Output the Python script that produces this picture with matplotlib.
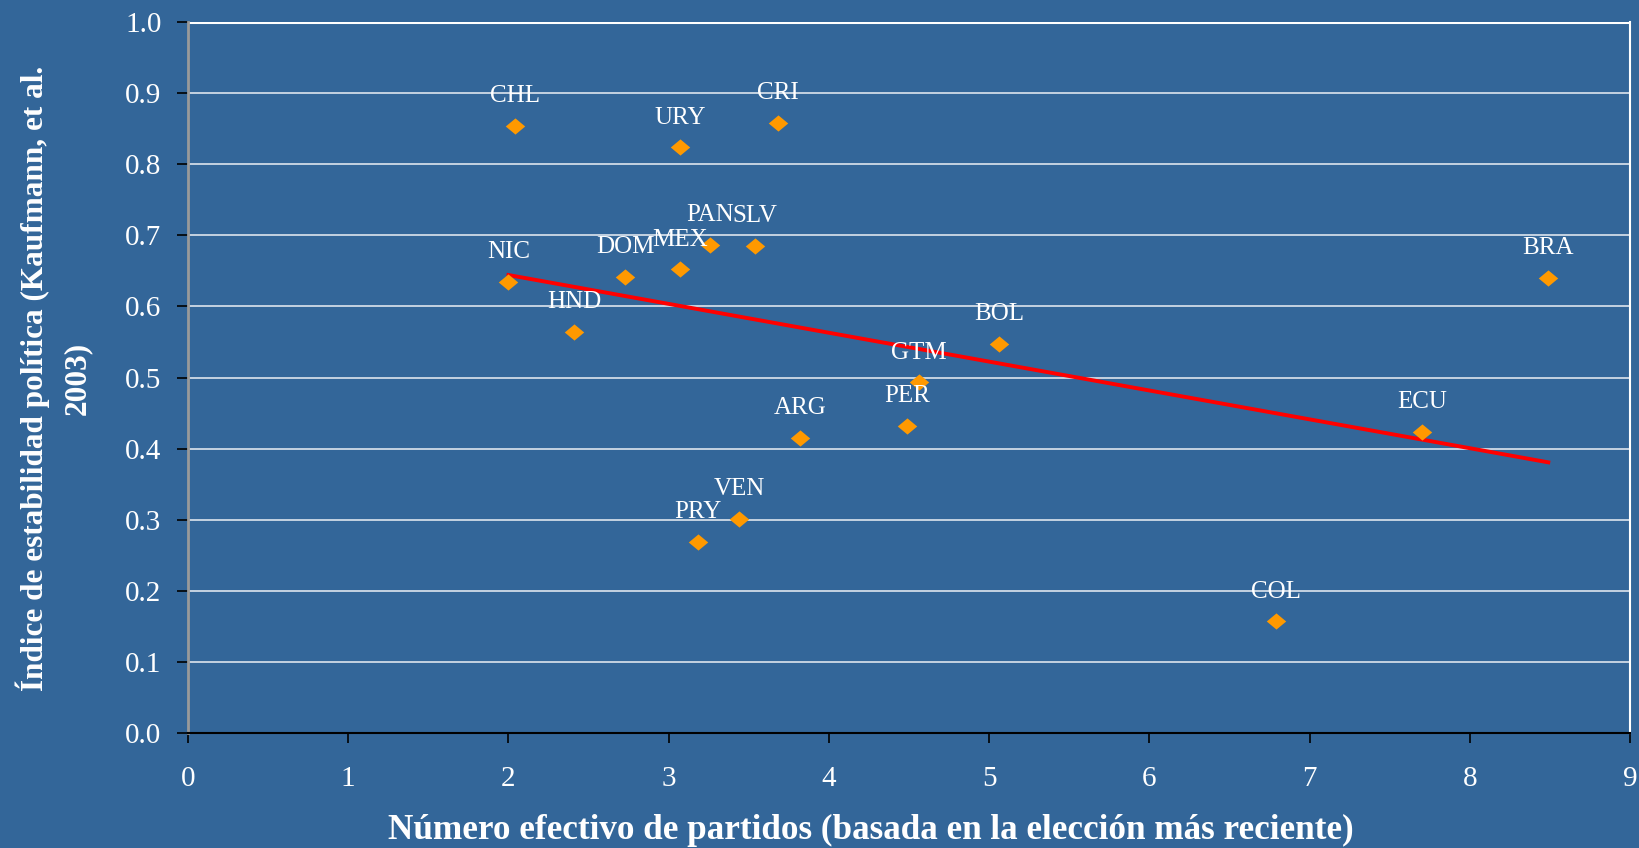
import matplotlib
matplotlib.use("Agg")
import matplotlib.pyplot as plt
import numpy as np

countries = ["CHL", "URY", "CRI", "PAN", "SLV", "MEX", "DOM", "NIC", "HND",
             "BOL", "GTM", "PER", "ARG", "VEN", "PRY", "COL", "ECU", "BRA"]
num_parties = [2.04, 3.07, 3.68, 3.26, 3.54, 3.07, 2.73, 2.00, 2.41,
               5.06, 4.56, 4.49, 3.82, 3.44, 3.18, 6.79, 7.70, 8.49]
stability = [0.854, 0.824, 0.858, 0.687, 0.685, 0.652, 0.642, 0.635, 0.564,
             0.547, 0.493, 0.432, 0.415, 0.301, 0.269, 0.157, 0.424, 0.640]

x_ticks = [0, 1, 2, 3, 4, 5, 6, 7, 8, 9]
y_ticks = [0.0, 0.1, 0.2, 0.3, 0.4, 0.5, 0.6, 0.7, 0.8, 0.9, 1.0]
xlabel = "Número efectivo de partidos (basada en la elección más reciente)"
ylabel = "Índice de estabilidad política (Kaufmann, et al.\n2003)"

BG = "#336699"
ORANGE = "#FF9900"
SERIF = ["Liberation Serif", "DejaVu Serif"]

fig = plt.figure(figsize=(16.39, 8.48), dpi=100, facecolor=BG)
ax = fig.add_axes([188 / 1639, 1 - 733 / 848, (1630 - 188) / 1639, (733 - 22) / 848])
ax.set_facecolor(BG)

ax.set_xlim(0, 9)
ax.set_ylim(0, 1.0)
ax.set_xticks(x_ticks)
ax.set_yticks(y_ticks)
ax.set_xticklabels([str(t) for t in x_ticks], family=SERIF, fontsize=21, color="white")
ax.set_yticklabels([f"{t:.1f}" for t in y_ticks], family=SERIF, fontsize=21, color="white")
ax.tick_params(axis="y", direction="out", length=8, width=1.2, color="black", pad=11)
ax.tick_params(axis="x", direction="out", length=7, width=1.2, color="black", pad=17)

ax.grid(axis="y", color="white", linewidth=1.1, alpha=0.9)
ax.set_axisbelow(True)
ax.spines["top"].set_visible(False)
ax.spines["right"].set_color("white")
ax.spines["right"].set_linewidth(1.5)
ax.spines["left"].set_color("#9a9a9a")
ax.spines["left"].set_linewidth(2)
ax.spines["bottom"].set_color("black")
ax.spines["bottom"].set_linewidth(1.5)
ax.axhline(1.0, color="white", linewidth=2.2, zorder=1)

# trend line (least squares)
xs = np.array(num_parties)
ys = np.array(stability)
slope, intercept = np.polyfit(xs, ys, 1)
xl = np.array([xs.min(), xs.max()])
ax.plot(xl, slope * xl + intercept, color="#FF0000", linewidth=2.8, zorder=3)

diamond = [(-1.2, 0), (0, 1), (1.2, 0), (0, -1), (-1.2, 0)]
ax.plot(xs, ys, linestyle="none", marker=diamond, markersize=14,
        color=ORANGE, markeredgewidth=0, zorder=4)

for name, x, y in zip(countries, num_parties, stability):
    ax.annotate(name, (x, y), xytext=(0, 17), textcoords="offset points",
                ha="center", va="baseline", color="white", fontsize=18,
                family=SERIF, zorder=5)

fig.text(871 / 1639, 1 - 830 / 848, xlabel, ha="center", va="center",
         color="white", fontsize=25.3, fontweight="bold", family=SERIF)
fig.text(54 / 1639, 1 - 378 / 848, ylabel, ha="center", va="center",
         rotation=90, color="white", fontsize=22.5, fontweight="bold",
         family=SERIF, multialignment="center", linespacing=1.6)

fig.savefig("out.png", dpi=100, facecolor=BG)
